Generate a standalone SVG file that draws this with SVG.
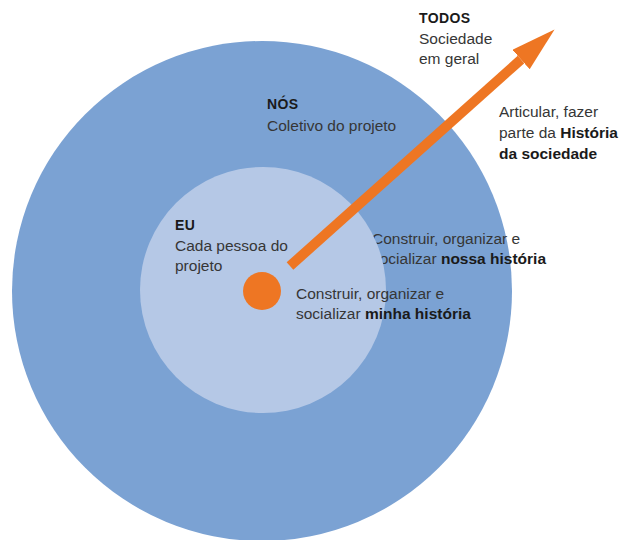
<svg xmlns="http://www.w3.org/2000/svg" width="631" height="540" viewBox="0 0 631 540">
  <style>
    text { font-family: "Liberation Sans", Arial, sans-serif; font-size: 15.5px; fill: #363636; }
    .b { font-weight: bold; fill: #1a1a1a; }
    .h { font-weight: bold; font-size: 14px; letter-spacing: 0.4px; fill: #1a1a1a; }
  </style>
  <defs>
    <marker id="head" markerUnits="userSpaceOnUse" markerWidth="46" markerHeight="28" refX="0" refY="13" orient="auto">
      <path d="M0,0 L45,13 L0,26 Z" fill="#EE7623"/>
    </marker>
  </defs>
  <rect width="631" height="540" fill="#ffffff"/>
  <g id="nos">
    <ellipse cx="262" cy="291" rx="250" ry="250" fill="#7BA2D3"/>
    <text class="h" x="267" y="109">NÓS</text>
    <text x="267" y="131">Coletivo do projeto</text>
    <text x="372" y="244">Construir, organizar e</text>
    <text x="372" y="264">socializar <tspan class="b">nossa história</tspan></text>
  </g>
  <g id="eu">
    <circle cx="263" cy="290" r="123" fill="#B5C8E6"/>
    <text class="h" x="175" y="230">EU</text>
    <text x="175" y="251">Cada pessoa do</text>
    <text x="175" y="271">projeto</text>
  </g>
  <g id="pessoa">
    <circle cx="262" cy="291" r="19" fill="#EE7623"/>
    <text x="296" y="299">Construir, organizar e</text>
    <text x="296" y="319">socializar <tspan class="b">minha história</tspan></text>
  </g>
  <g id="todos">
    <text class="h" x="419" y="23">TODOS</text>
    <text x="419" y="44">Sociedade</text>
    <text x="419" y="64">em geral</text>
    <text x="499" y="117">Articular, fazer</text>
    <text x="499" y="138">parte da <tspan class="b">História</tspan></text>
    <text x="499" y="159" class="b">da sociedade</text>
  </g>
  <g id="connectors">
    <line x1="290" y1="266" x2="521" y2="59.5" stroke="#EE7623" stroke-width="10" marker-end="url(#head)"/>
  </g>
</svg>
